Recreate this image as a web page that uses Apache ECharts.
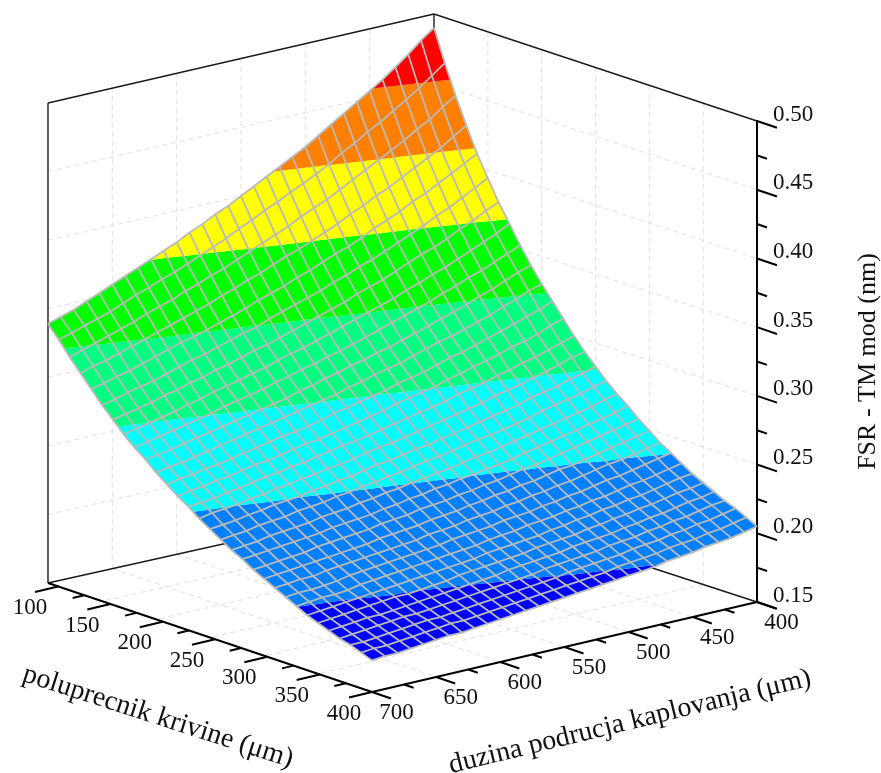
<!DOCTYPE html>
<html><head><meta charset="utf-8"><style>html,body{margin:0;background:#fff}#c{width:881px;height:773px}</style>
<script src="https://cdn.jsdelivr.net/npm/echarts@6/dist/echarts.min.js"></script></head><body><div id="c"></div>
<script>
const radiusTicks=[100,150,200,250,300,350,400];
const lengthTicks=[400,450,500,550,600,650,700];
const radiusMinor=[125,175,225,275,325,375];
const lengthMinor=[425,475,525,575,625,675];
const fsrTicks=[0.15,0.2,0.25,0.3,0.35,0.4,0.45,0.5];
const fsrMinor=[0.175,0.225,0.275,0.325,0.375,0.425,0.475];
const bandLevels=[0.15,0.19375,0.2375,0.28125,0.325,0.36875,0.4125,0.45625,0.5];
const bandColors=['#0000ff','#0080ff','#00ffff','#00ff80','#00ff00','#ffff00','#ff8000','#ff0000'];
const radiusValues=[100,110,120,130,140,150,160,170,180,190,200,210,220,230,240,250,260,270,280,290,300,310,320,330,340,350,360,370,380,390,400];
const lengthValues=[400,410,420,430,440,450,460,470,480,490,500,510,520,530,540,550,560,570,580,590,600,610,620,630,640,650,660,670,680,690,700];
// FSR in thousandths of a nm, one list per coupling length, one value per radius
const fsrL400=[490,467,446,427,409,394,379,366,353,341,330,320,310,300,291,283,275,268,262,255,249,243,238,233,228,224,220,216,213,209,205];
const fsrL410=[483,460,440,421,404,389,375,361,349,338,327,316,307,297,289,280,273,266,259,253,247,241,236,231,227,222,218,215,211,207,203];
const fsrL420=[475,453,433,415,399,384,370,357,345,334,323,313,303,294,286,278,270,263,257,251,245,239,234,229,225,221,217,213,209,205,201];
const fsrL430=[468,447,428,410,394,379,366,353,341,330,320,310,300,291,283,275,268,261,255,249,243,237,232,227,223,219,215,211,208,204,200];
const fsrL440=[461,441,422,405,389,375,361,349,338,327,316,307,298,289,281,273,266,259,253,247,241,236,230,226,221,217,213,210,206,202,199];
const fsrL450=[455,435,417,400,385,370,357,345,334,323,313,304,295,286,278,271,264,257,251,245,239,234,229,224,220,216,212,208,205,201,197];
const fsrL460=[449,430,412,395,380,366,354,342,331,320,310,301,292,284,276,268,261,255,249,243,237,232,227,222,218,214,210,207,203,200,196];
const fsrL470=[443,424,407,391,376,362,350,338,327,317,307,298,290,281,274,266,259,253,247,241,236,230,225,221,217,213,209,205,202,198,195];
const fsrL480=[437,419,402,386,372,358,346,335,324,314,305,296,287,279,271,264,257,251,245,239,234,229,224,219,215,211,207,204,201,197,193];
const fsrL490=[431,413,397,382,367,354,342,331,321,311,302,293,285,277,269,262,255,249,243,238,232,227,222,218,214,210,206,203,199,196,192];
const fsrL500=[425,408,392,377,363,351,339,328,318,308,299,290,282,274,267,260,254,247,241,236,231,226,221,216,212,208,205,201,198,195,191];
const fsrL510=[420,403,388,373,360,347,336,325,315,305,296,288,280,272,265,258,252,246,240,234,229,224,219,215,211,207,204,200,197,193,190];
const fsrL520=[415,399,384,369,356,344,332,322,312,303,294,286,278,270,263,256,250,244,238,233,228,223,218,214,209,206,202,199,196,192,189];
const fsrL530=[410,394,379,365,352,340,329,319,309,300,292,283,276,268,261,254,248,242,237,231,226,221,217,212,208,205,201,198,195,191,188];
const fsrL540=[405,390,375,362,349,337,326,316,306,298,289,281,273,266,259,253,247,241,235,230,225,220,215,211,207,203,200,197,193,190,187];
const fsrL550=[400,385,371,358,345,334,323,313,304,295,287,279,271,264,257,251,245,239,234,228,223,219,214,210,206,202,199,195,192,189,186];
const fsrL560=[395,381,367,354,342,331,320,310,301,293,284,277,269,262,256,249,243,238,232,227,222,217,213,208,205,201,198,194,191,188,185];
const fsrL570=[391,376,363,351,339,328,317,308,299,290,282,275,267,260,254,248,242,236,231,226,221,216,212,207,203,200,196,193,190,187,184];
const fsrL580=[386,372,359,347,335,324,314,305,296,288,280,272,265,259,252,246,240,235,229,224,219,215,210,206,202,199,195,192,189,186,183];
const fsrL590=[382,368,356,344,332,322,312,302,294,285,278,270,263,257,250,244,239,233,228,223,218,213,209,205,201,198,194,191,188,185,182];
const fsrL600=[377,364,352,340,329,319,309,300,291,283,276,268,262,255,249,243,237,232,226,222,217,212,208,204,200,196,193,190,187,184,181];
const fsrL610=[373,360,349,337,326,316,306,297,289,281,274,267,260,253,247,241,236,230,225,220,216,211,207,203,199,195,192,189,186,183,180];
const fsrL620=[369,357,345,334,323,313,304,295,287,279,272,265,258,252,246,240,234,229,224,219,214,210,206,202,198,194,191,188,185,182,179];
const fsrL630=[365,353,342,331,321,311,301,293,285,277,270,263,256,250,244,238,233,228,223,218,213,209,205,201,197,193,190,187,184,182,178];
const fsrL640=[361,350,339,328,318,308,299,290,282,275,268,261,255,249,243,237,232,226,221,217,212,208,204,200,196,193,189,186,184,181,178];
const fsrL650=[357,346,335,325,315,305,296,288,280,273,266,259,253,247,241,236,230,225,220,216,211,207,203,199,195,192,188,186,183,180,177];
const fsrL660=[353,342,332,322,312,302,294,285,278,271,264,257,251,245,240,234,229,224,219,214,210,206,201,197,194,191,187,185,182,179,176];
const fsrL670=[349,339,329,319,309,300,291,283,276,269,262,256,250,244,238,233,228,223,218,213,209,204,200,196,193,190,187,184,181,178,175];
const fsrL680=[345,336,326,316,307,298,289,281,274,267,260,254,248,242,237,231,226,221,217,212,208,204,199,196,192,189,186,183,180,177,174];
const fsrL690=[342,333,323,314,304,295,287,279,272,265,259,253,247,241,236,230,225,220,216,211,207,203,199,195,191,188,185,182,179,177,174];
const fsrL700=[339,330,320,311,302,293,285,277,270,264,257,251,245,240,234,229,224,219,215,210,206,202,198,194,190,187,184,181,179,176,173];
const fsrRows=[fsrL400,fsrL410,fsrL420,fsrL430,fsrL440,fsrL450,fsrL460,fsrL470,fsrL480,fsrL490,fsrL500,fsrL510,fsrL520,fsrL530,fsrL540,fsrL550,fsrL560,fsrL570,fsrL580,fsrL590,fsrL600,fsrL610,fsrL620,fsrL630,fsrL640,fsrL650,fsrL660,fsrL670,fsrL680,fsrL690,fsrL700];

const floorBack=[434,497],floorLeft=[48,583],floorFront=[372,692],floorRight=[757,602];
const hBack=483,hLeft=480,hFront=481,hRight=481;
function mix(a,b,c,d,u,v){return (1-u)*(1-v)*a+(1-u)*v*b+u*v*c+u*(1-v)*d;}
function project(R,L,z){const u=(R-100)/300,v=(L-400)/300;
 const x=mix(floorBack[0],floorLeft[0],floorFront[0],floorRight[0],u,v);
 const y=mix(floorBack[1],floorLeft[1],floorFront[1],floorRight[1],u,v);
 const h=mix(hBack,hLeft,hFront,hRight,u,v);
 return [x,y-h*(z-0.15)/0.35];}
const serif='"Liberation Serif"';
const cells=[];for(let j=0;j<30;j++)for(let i=0;i<30;i++)cells.push([i,j]);
function clip(poly,level,keepAbove){const out=[];for(let k=0;k<poly.length;k++){const p=poly[k],q=poly[(k+1)%poly.length];
 const pi=keepAbove?p[2]>=level:p[2]<=level,qi=keepAbove?q[2]>=level:q[2]<=level;
 if(pi)out.push(p);
 if(pi!==qi){const t=(level-p[2])/(q[2]-p[2]);out.push([p[0]+t*(q[0]-p[0]),p[1]+t*(q[1]-p[1]),level]);}}
 return out;}
function renderCell(params,api){const i=api.value(0),j=api.value(1);
 const n=(a,b)=>[radiusValues[a],lengthValues[b],fsrRows[b][a]/1000];
 const quad=[n(i,j),n(i+1,j),n(i+1,j+1),n(i,j+1)];
 const children=[];
 bandColors.forEach((c,b)=>{let p=clip(clip(quad,bandLevels[b],true),bandLevels[b+1],false);
  if(p.length>=3)children.push({type:'polygon',shape:{points:p.map(q=>api.coord(project(q[0],q[1],q[2])))},style:{fill:c,stroke:null}});});
 return {type:'group',children};}
const meshLines=[];
lengthValues.forEach((L,j)=>meshLines.push(radiusValues.map((R,i)=>[R,L,fsrRows[j][i]/1000])));
radiusValues.forEach((R,i)=>meshLines.push(lengthValues.map((L,j)=>[R,L,fsrRows[j][i]/1000])));
function renderMesh(params,api){return {type:'polyline',shape:{points:meshLines[api.value(0)].map(p=>api.coord(project(p[0],p[1],p[2])))},style:{fill:null,stroke:'#b9b9b9',lineWidth:1.8}};}
const Rmin=100,Rmax=400,Lmin=400,Lmax=700,Zmin=.15,Zmax=.5;
const gridSegs=[];
radiusTicks.slice(1,-1).forEach(R=>{gridSegs.push([[R,Lmin,Zmin],[R,Lmin,Zmax]]);gridSegs.push([[R,Lmin,Zmin],[R,Lmax,Zmin]]);});
lengthTicks.slice(1,-1).forEach(L=>{gridSegs.push([[Rmin,L,Zmin],[Rmin,L,Zmax]]);gridSegs.push([[Rmin,L,Zmin],[Rmax,L,Zmin]]);});
fsrTicks.slice(1,-1).forEach(z=>{gridSegs.push([[Rmin,Lmax,z],[Rmin,Lmin,z]]);gridSegs.push([[Rmin,Lmin,z],[Rmax,Lmin,z]]);});
function renderGrid(params,api){const s=gridSegs[api.value(0)],a=api.coord(project(...s[0])),b=api.coord(project(...s[1]));
 return {type:'line',shape:{x1:a[0],y1:a[1],x2:b[0],y2:b[1]},style:{stroke:'#e0e0e0',lineWidth:1,lineDash:[5,4]}};}
const frameSegs=[
 [[Rmin,Lmax,Zmin],[Rmin,Lmax,Zmax]],[[Rmin,Lmax,Zmax],[Rmin,Lmin,Zmax]],[[Rmin,Lmin,Zmax],[Rmax,Lmin,Zmax]],
 [[Rmin,Lmin,Zmin],[Rmin,Lmin,Zmax]],[[Rmin,Lmax,Zmin],[Rmin,Lmin,Zmin]],[[Rmin,Lmin,Zmin],[Rmax,Lmin,Zmin]]];
function renderFrame(params,api){const s=frameSegs[api.value(0)],a=api.coord(project(...s[0])),b=api.coord(project(...s[1]));
 return {type:'line',shape:{x1:a[0],y1:a[1],x2:b[0],y2:b[1]},style:{stroke:'#1a1a1a',lineWidth:1.4}};}
const axisMarks=[];
radiusTicks.forEach(v=>axisMarks.push(['R',v,1]));radiusMinor.forEach(v=>axisMarks.push(['R',v,0]));
lengthTicks.forEach(v=>axisMarks.push(['L',v,1]));lengthMinor.forEach(v=>axisMarks.push(['L',v,0]));
fsrTicks.forEach(v=>axisMarks.push(['Z',v,1]));fsrMinor.forEach(v=>axisMarks.push(['Z',v,0]));
const rAxisFrom=[58,586.5];
function renderAxisMark(params,api){const m=axisMarks[api.value(0)],kind=m[0],v=m[1],major=m[2];let base,d,off;
 if(kind==='R'){const t=(v-100)/300;base=[rAxisFrom[0]+t*(floorFront[0]-rAxisFrom[0]),rAxisFrom[1]+t*(floorFront[1]-rAxisFrom[1])];d=[-23,5.5];off=[-5,16];}
 else if(kind==='L'){base=project(Rmax,v,Zmin);d=[19,6.5];off=[5.5,14.5];}
 else{base=project(Rmax,Lmin,v);d=[20,6.8];off=null;}
 const f=major?1:0.5,a=api.coord(base),b=api.coord([base[0]+d[0]*f,base[1]+d[1]*f]);
 const kids=[{type:'line',shape:{x1:a[0],y1:a[1],x2:b[0],y2:b[1]},style:{stroke:'#000',lineWidth:2}}];
 if(major&&off)kids.push({type:'text',style:{text:String(v),x:b[0]+off[0],y:b[1]+off[1],font:'23px '+serif,fill:'#111',align:'center',verticalAlign:'middle'}});
 return {type:'group',children:kids};}
const axisLines=[[[Rmin,Lmax,Zmin],[Rmax,Lmax,Zmin]],[[Rmax,Lmax,Zmin],[Rmax,Lmin,Zmin]]];
function renderAxisLine(params,api){const s=axisLines[api.value(0)],a=api.coord(project(...s[0])),b=api.coord(project(...s[1]));
 return {type:'line',shape:{x1:a[0],y1:a[1],x2:b[0],y2:b[1]},style:{stroke:'#000',lineWidth:2}};}
const titles=[{text:'poluprecnik krivine (\u03bcm)',pos:[158,717],rot:-17.9},{text:'duzina podrucja kaplovanja (\u03bcm)',pos:[630,722],rot:13.7}];
function renderTitle(params,api){const t=titles[api.value(0)],p=api.coord(t.pos);
 return {type:'text',x:p[0],y:p[1],rotation:t.rot*Math.PI/180,style:{text:t.text,font:'28px '+serif,fill:'#111',align:'center',verticalAlign:'middle'}};}
const idx=a=>a.map((_,i)=>[i]);
const base={type:'custom',xAxisIndex:0,yAxisIndex:0,clip:false,silent:true,animation:false};
const chart=echarts.init(document.getElementById('c'),null,{renderer:'canvas'});
chart.setOption({animation:false,backgroundColor:'#fff',
 grid:[{left:0,right:0,top:0,bottom:0,outerBoundsMode:'none'},{left:100,right:124,top:121,bottom:171,outerBoundsMode:'none',containLabel:false}],
 xAxis:[{type:'value',min:0,max:881,show:false},{type:'value',gridIndex:1,show:false,min:0,max:1}],
 yAxis:[{type:'value',min:0,max:773,inverse:true,show:false},
  {type:'value',gridIndex:1,position:'right',min:0.15,max:0.5,interval:0.05,splitLine:{show:false},axisTick:{show:false},
   axisLine:{show:true,onZero:false,lineStyle:{color:'#000',width:2}},
   axisLabel:{margin:16,color:'#111',fontFamily:serif,fontSize:23,verticalAlign:'bottom',lineHeight:13,formatter:v=>v.toFixed(2)},
   name:'FSR - TM mod (nm)',nameLocation:'middle',nameGap:98,nameRotate:90,nameTextStyle:{color:'#111',fontFamily:serif,fontSize:26}}],
 series:[
  {...base,z:1,data:idx(gridSegs),renderItem:renderGrid},
  {...base,z:2,data:idx(frameSegs),renderItem:renderFrame},
  {...base,z:3,data:cells,renderItem:renderCell},
  {...base,z:4,data:idx(meshLines),renderItem:renderMesh},
  {...base,z:5,data:idx(axisLines),renderItem:renderAxisLine},
  {...base,z:6,data:idx(axisMarks),renderItem:renderAxisMark},
  {...base,z:6,data:idx(titles),renderItem:renderTitle}
 ]});
</script></body></html>
